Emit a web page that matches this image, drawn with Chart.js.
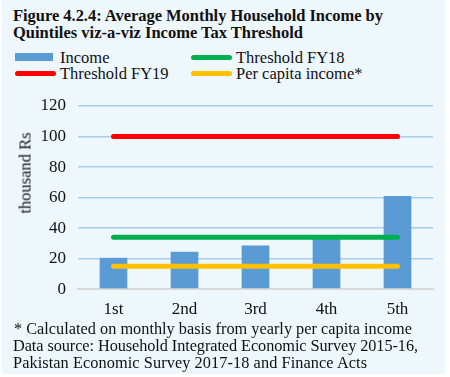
<!DOCTYPE html>
<html><head><meta charset="utf-8">
<script src="https://cdn.jsdelivr.net/npm/chart.js@4/dist/chart.umd.min.js"></script>
<style>
html,body{margin:0;padding:0;background:#fff;}
#wrap{position:relative;width:450px;height:377px;overflow:hidden;font-family:"Liberation Serif","Times New Roman",serif;color:#111;}
#panel{position:absolute;left:2px;top:0;width:443px;height:374px;background:#EEF7FC;}
.ln{position:absolute;white-space:nowrap;}
.ln span{display:inline-block;}
.t{font-weight:bold;font-size:16.5px;line-height:17px;}
.n{font-size:16.3px;line-height:17px;}
.leg{position:absolute;font-size:16.5px;line-height:16px;white-space:nowrap;}
.sw{position:absolute;}
#ytitle{position:absolute;left:25px;top:173px;font-size:16.5px;line-height:17px;white-space:nowrap;transform:translate(-50%,-50%) rotate(-90deg);}
canvas{position:absolute;left:0;top:0;}
</style></head>
<body><div id="wrap"><div id="panel"></div>
<div class="ln t" style="left:13px;top:7px" data-w="370"><span>Figure 4.2.4: Average Monthly Household Income by</span></div>
<div class="ln t" style="left:13px;top:24px" data-w="290"><span>Quintiles viz-a-viz Income Tax Threshold</span></div>
<div id="legend"></div>
<canvas id="c" width="450" height="377"></canvas>
<div id="ytitle">thousand Rs</div>
<div class="ln n" style="left:14px;top:320px" data-w="398"><span>* Calculated on monthly basis from yearly per capita income</span></div>
<div class="ln n" style="left:13px;top:337px" data-w="405"><span>Data source: Household Integrated Economic Survey 2015-16,</span></div>
<div class="ln n" style="left:13px;top:354px" data-w="354"><span>Pakistan Economic Survey 2017-18 and Finance Acts</span></div>
</div>
<script>
const categories = ["1st", "2nd", "3rd", "4th", "5th"];
const income = [20.5, 24.5, 28.5, 34, 61];
const thresholdFY18 = [34, 34, 34, 34, 34];
const thresholdFY19 = [100, 100, 100, 100, 100];
const perCapitaIncome = [15, 15, 15, 15, 15];
const yTicks = [0, 20, 40, 60, 80, 100, 120];

const font = {family: "'Liberation Serif','Times New Roman',serif", size: 17};
const lineDs = (label, data, color) => ({type: 'line', label, data, borderColor: color, backgroundColor: color,
  borderWidth: 5, borderCapStyle: 'round', pointRadius: 0, fill: false, order: 1});

const chart = new Chart(document.getElementById('c'), {
  data: {
    labels: categories,
    datasets: [
      {type: 'bar', label: 'Income', data: income, backgroundColor: '#5B9BD5', barPercentage: 0.39, categoryPercentage: 1, order: 2},
      lineDs('Threshold FY18', thresholdFY18, '#00B050'),
      lineDs('Threshold FY19', thresholdFY19, '#FF0000'),
      lineDs('Per capita income*', perCapitaIncome, '#FFC000')
    ]
  },
  options: {
    responsive: false, animation: false,
    layout: {padding: {left: 28.5, right: 17, top: 106, bottom: 47.5}},
    plugins: {legend: {display: false}, title: {display: false}, tooltip: {enabled: false}},
    scales: {
      x: {grid: {display: false, drawTicks: false}, border: {color: '#D9D9D9', width: 2},
          ticks: {color: '#111', font, padding: 10}},
      y: {min: 0, max: 120, afterBuildTicks: s => { s.ticks = yTicks.map(v => ({value: v})); },
          grid: {color: '#A7CDEE', lineWidth: 1.5, drawTicks: false}, border: {display: false},
          ticks: {color: '#111', font, padding: 12},
          title: {display: false}}
    }
  }
});

// HTML legend built from datasets
const pos = [[14, 52], [190, 52], [14, 68], [190, 68]];
const legendEl = document.getElementById('legend');
chart.data.datasets.forEach((ds, i) => {
  const [x, y] = pos[i];
  const sw = document.createElement('div');
  sw.className = 'sw';
  const isBar = ds.type === 'bar';
  sw.style.cssText = `left:${x + 1}px;top:${y + (isBar ? 1 : 3)}px;width:${isBar ? 38 : 41}px;height:${isBar ? 8 : 5}px;background:${ds.backgroundColor};border-radius:${isBar ? 0 : 3}px;`;
  const t = document.createElement('div');
  t.className = 'leg';
  t.style.left = (x + 46) + 'px';
  t.style.top = (y - 2) + 'px';
  t.textContent = ds.label;
  legendEl.appendChild(sw); legendEl.appendChild(t);
});

// fit text lines to the reference widths
document.querySelectorAll('.ln').forEach(d => {
  const s = d.querySelector('span');
  const target = +d.dataset.w;
  const w = s.getBoundingClientRect().width;
  const n = s.textContent.length - 1;
  if (n > 0) s.style.letterSpacing = ((target - w) / n).toFixed(3) + 'px';
});
</script></body></html>
